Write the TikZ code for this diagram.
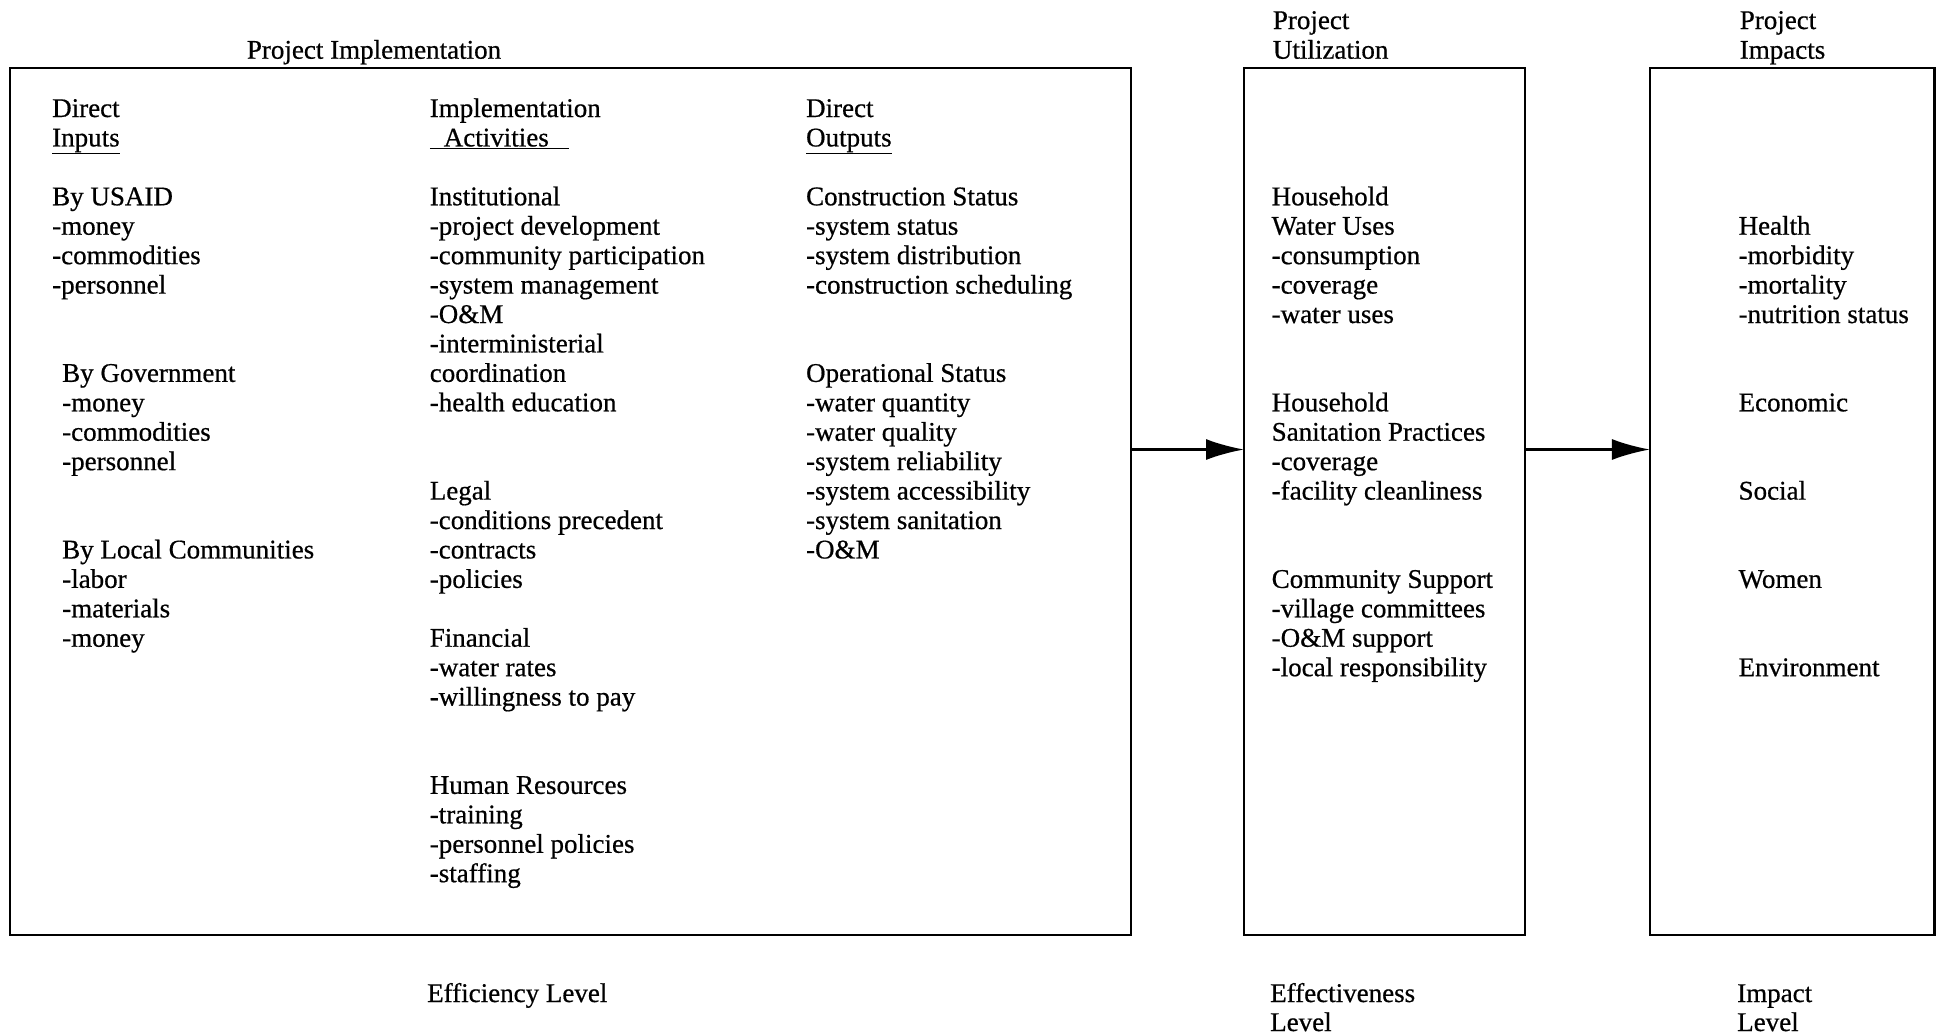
\documentclass[tikz,border=0pt]{standalone}
\usepackage{fontspec}
\setmainfont{Liberation Serif}[UprightFeatures={FakeBold=0.6}]
\usetikzlibrary{arrows.meta}

\tikzset{
  txt/.style={anchor=base west, inner sep=0pt, font=\fontsize{27}{29.4}\selectfont},
  frame/.style={draw, line width=2.4pt, inner sep=0pt, outer sep=0pt, minimum height=867pt},
  flow/.style={line width=2.4pt, -{Latex[length=38pt,width=21pt]}},
}

\begin{document}
\begin{tikzpicture}[x=1pt,y=-1pt]
\useasboundingbox (0,0) rectangle (1947,1034);

% the three boxes
\node[frame, minimum width=1121pt] (impl) at (570.5,501.6) {};
\node[frame, minimum width=281pt] (util) at (1384.5,501.6) {};
\node[frame, minimum width=284.5pt] (impact) at (1792.2,501.6) {};

% arrows between them
\coordinate (lvl) at (0,449.5);
\draw[flow] (impl.east |- lvl) -- (util.west |- lvl);
\draw[flow] (util.east |- lvl) -- (impact.west |- lvl);

% headings
\node[txt, anchor=base] (hImpl) at (374,58.7) {Project Implementation};
\node[txt] (hUtilA) at (1272.7,29) {Project};
\node[txt] (hUtilB) at (1272.7,58.7) {Utilization};
\node[txt] (hImpA) at (1739.6,29) {Project};
\node[txt] (hImpB) at (1739.6,58.7) {Impacts};

% direct inputs
\foreach \k/\t in {0/Direct, 1/\underline{Inputs}, 3/By USAID, 4/-money,
                   5/-commodities, 6/-personnel}
  \node[txt] (inp\k) at (52,{117+29.43*\k}) {\t};
\foreach \k/\t in {9/By Government, 10/-money, 11/-commodities, 12/-personnel,
                   15/By Local Communities, 16/-labor, 17/-materials, 18/-money}
  \node[txt] (inp\k) at (62,{117+29.43*\k}) {\t};

% implementation activities
\foreach \k/\t in {0/Implementation, 1/{\underline{\hspace{14pt}Activities\hspace{20pt}}},
                   3/Institutional, 4/-project development, 5/-community participation,
                   6/-system management, 7/-O\&M, 8/-interministerial, 9/coordination,
                   10/-health education, 13/Legal, 14/-conditions precedent,
                   15/-contracts, 16/-policies, 18/Financial, 19/-water rates,
                   20/-willingness to pay, 23/Human Resources, 24/-training,
                   25/-personnel policies, 26/-staffing}
  \node[txt] (act\k) at (429.6,{117+29.43*\k}) {\t};

% direct outputs
\foreach \k/\t in {0/Direct, 1/\underline{Outputs}, 3/Construction Status,
                   4/-system status, 5/-system distribution, 6/-construction scheduling,
                   9/Operational Status, 10/-water quantity, 11/-water quality,
                   12/-system reliability, 13/-system accessibility,
                   14/-system sanitation, 15/-O\&M}
  \node[txt] (out\k) at (805.9,{117+29.43*\k}) {\t};

% utilization
\foreach \k/\t in {3/Household, 4/Water Uses, 5/-consumption, 6/-coverage,
                   7/-water uses, 10/Household, 11/Sanitation Practices, 12/-coverage,
                   13/-facility cleanliness, 16/Community Support,
                   17/-village committees, 18/-O\&M support, 19/-local responsibility}
  \node[txt] (use\k) at (1271.5,{117+29.43*\k}) {\t};

% impacts
\foreach \k/\t in {4/Health, 5/-morbidity, 6/-mortality, 7/-nutrition status,
                   10/Economic, 13/Social, 16/Women, 19/Environment}
  \node[txt] (imp\k) at (1738.4,{117+29.43*\k}) {\t};

% levels
\node[txt] (lvEff) at (427,1002) {Efficiency Level};
\node[txt] (lvUseA) at (1270,1002) {Effectiveness};
\node[txt] (lvUseB) at (1270,1031) {Level};
\node[txt] (lvImpA) at (1737,1002) {Impact};
\node[txt] (lvImpB) at (1737,1031) {Level};
\end{tikzpicture}
\end{document}
